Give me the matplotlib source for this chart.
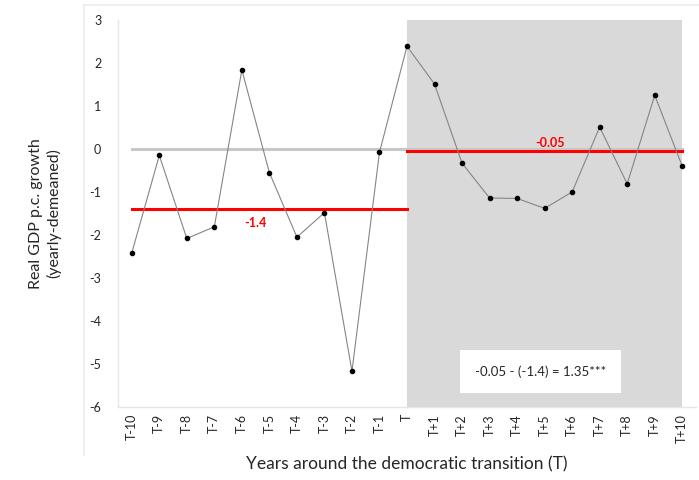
import numpy as np
import matplotlib.pyplot as plt
from matplotlib.lines import Line2D

# growth around the transition year, demeaned by year
years = ['T-10', 'T-9', 'T-8', 'T-7', 'T-6', 'T-5', 'T-4', 'T-3', 'T-2', 'T-1', 'T',
         'T+1', 'T+2', 'T+3', 'T+4', 'T+5', 'T+6', 'T+7', 'T+8', 'T+9', 'T+10']
growth = [-2.42, -0.15, -2.08, -1.81, 1.84, -0.55, -2.05, -1.48, -5.17, -0.08, 2.39,
          1.51, -0.33, -1.14, -1.15, -1.38, -1.0, 0.51, -0.81, 1.25, -0.40]
mean_before = -1.4
mean_after = -0.05
diff_text = '-0.05 - (-1.4) = 1.35***'

plt.rcParams['font.family'] = ['Lato', 'DejaVu Sans']
plt.rcParams['axes.unicode_minus'] = False

fig = plt.figure(figsize=(6.99, 4.8), dpi=100)
ax = fig.add_axes([118 / 699, 1 - 407 / 480, 578 / 699, 387 / 480])

x = np.arange(len(years))
t0 = years.index('T')

# shaded post-transition period
ax.axvspan(t0, len(years) - 1, color='#d9d9d9', zorder=0, lw=0)

ax.plot([0, len(years) - 1], [0, 0], color='#c8c8c8', lw=2.2, zorder=1)
ax.plot([0, t0], [mean_before, mean_before], color='#ff0000', lw=2.2, zorder=2)
ax.plot([t0, len(years) - 1], [mean_after, mean_after], color='#ff0000', lw=2.2, zorder=2)

ax.plot(x, growth, color='#858585', lw=0.8, marker='o', ms=3,
        mfc='black', mec='black', zorder=3)

ax.text(4.5, mean_before - 0.17, f'{mean_before:g}', color='#ff0000', fontsize=9,
        fontweight='bold', ha='center', va='top')
ax.text(15.2, mean_after + 0.05, f'{mean_after:g}', color='#ff0000', fontsize=9,
        fontweight='bold', ha='center', va='bottom')

ax.text(14.85, -5.17, diff_text, fontsize=9.5, color='#262626', ha='center', va='center',
        bbox=dict(boxstyle='square,pad=1.15', fc='white', ec='none'), zorder=4)

ax.set_xlim(-0.5, len(years) - 0.5)
ax.set_ylim(-6, 3)
ax.set_yticks(range(-6, 4))
ax.set_xticks(x)
ax.set_xticklabels(years, rotation=90, fontsize=9, color='#262626')
ax.tick_params(axis='y', labelsize=9, labelcolor='#262626', length=0, pad=12)
ax.tick_params(axis='x', length=0, pad=5)

for side in ['top', 'right']:
    ax.spines[side].set_visible(False)
for side in ['left', 'bottom']:
    ax.spines[side].set_color('#e6e6e6')
    ax.spines[side].set_linewidth(1)

ax.set_ylabel('Real GDP p.c. growth\n(yearly-demeaned)', fontsize=11.5,
              color='#262626', labelpad=20, linespacing=1.3)
ax.set_xlabel('Years around the democratic transition (T)', fontsize=12.5,
              color='#262626', labelpad=10)

# faint chart-area border
fig.add_artist(Line2D([84 / 699, 1], [1 - 5 / 480, 1 - 5 / 480],
                      transform=fig.transFigure, color='#ececec', lw=1.2))
fig.add_artist(Line2D([84 / 699, 84 / 699], [1 - 5 / 480, 1 - 455 / 480],
                      transform=fig.transFigure, color='#ececec', lw=1.2))

fig.savefig('out.png', dpi=100)
